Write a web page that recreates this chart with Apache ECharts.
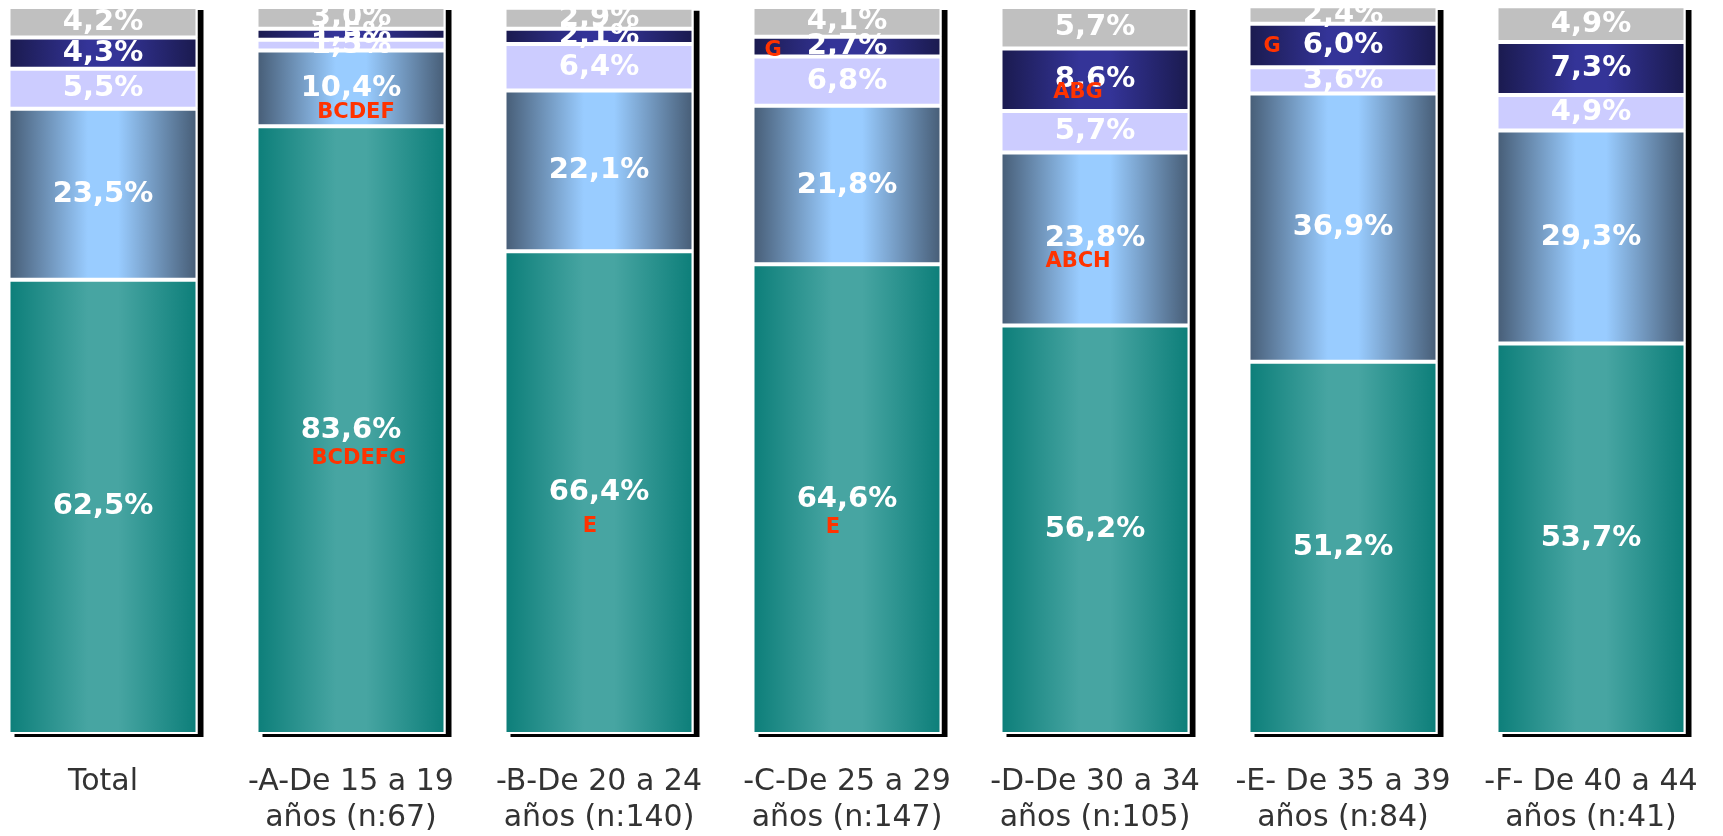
<!DOCTYPE html>
<html>
<head>
<meta charset="utf-8">
<script src="https://cdn.jsdelivr.net/npm/echarts@6/dist/echarts.min.js"></script>
<style>
  html, body { margin: 0; padding: 0; background: #fff; overflow: hidden; }
  #chart { position: absolute; left: -21px; top: 0; width: 1744px; height: 836px; }
</style>
</head>
<body>
<div id="chart"></div>
<script>
// ---- Data ----
const categories = [
  'Total',
  '-A-De 15 a 19\naños (n:67)',
  '-B-De 20 a 24\naños (n:140)',
  '-C-De 25 a 29\naños (n:147)',
  '-D-De 30 a 34\naños (n:105)',
  '-E- De 35 a 39\naños (n:84)',
  '-F- De 40 a 44\naños (n:41)'
];
const tealValues     = [62.5, 83.6, 66.4, 64.6, 56.2, 51.2, 53.7];
const skyBlueValues  = [23.5, 10.4, 22.1, 21.8, 23.8, 36.9, 29.3];
const lavenderValues = [5.5, 1.5, 6.4, 6.8, 5.7, 3.6, 4.9];
const navyValues     = [4.3, 1.5, 2.1, 2.7, 8.6, 6.0, 7.3];
const grayValues     = [4.2, 3.0, 2.9, 4.1, 5.7, 2.4, 4.9];

// significance notes: category index, segment index (0 = bottom), text
const notes = [
  { cat: 1, seg: 0, text: 'BCDEFG' },
  { cat: 1, seg: 1, text: 'BCDEF' },
  { cat: 2, seg: 0, text: 'E' },
  { cat: 3, seg: 0, text: 'E' },
  { cat: 3, seg: 3, text: 'G' },
  { cat: 4, seg: 3, text: 'ABG' },
  { cat: 4, seg: 1, text: 'ABCH' },
  { cat: 5, seg: 3, text: 'G' }
];

// ---- Styling ----
const noteOffsets = [[8, 28], [5, 24], [-9, 34], [-14, 28], [-74, 4], [-17, 13], [-17, 23], [-71, 1]];
const segValues = [tealValues, skyBlueValues, lavenderValues, navyValues, grayValues];
function hGrad(edge, mid) {
  return new echarts.graphic.LinearGradient(0, 0, 1, 0, [
    { offset: 0, color: edge },
    { offset: 0.42, color: mid },
    { offset: 0.58, color: mid },
    { offset: 1, color: edge }
  ]);
}
const segColors = [
  hGrad('#0C7E79', '#47A5A2'),
  hGrad('#465C75', '#99CCFF'),
  '#CCCCFF',
  hGrad('#1A1A4E', '#343498'),
  '#C0C0C0'
];
const segNames = ['s1', 's2', 's3', 's4', 's5'];
const BAR_W = 189;

const totals = categories.map((c, i) => segValues.reduce((s, arr) => s + arr[i], 0));
const fmt = v => v.toFixed(1).replace('.', ',') + '%';

const noteData = notes.map(n => {
  let below = 0;
  for (let k = 0; k < n.seg; k++) below += segValues[k][n.cat];
  return [n.cat, below + segValues[n.seg][n.cat] / 2];
});

const series = [{
  type: 'bar',
  name: 'shadow',
  data: totals,
  barWidth: BAR_W,
  barGap: '-100%',
  silent: true,
  itemStyle: { color: '#fff', shadowColor: '#000', shadowBlur: 0, shadowOffsetX: 6, shadowOffsetY: 3 },
  label: { show: false }
}];
segValues.forEach((arr, s) => {
  series.push({
    type: 'bar',
    name: segNames[s],
    stack: 'total',
    data: arr,
    barWidth: BAR_W,
    barGap: '-100%',
    itemStyle: { color: segColors[s], borderColor: '#fff', borderWidth: 2 },
    label: {
      show: true,
      position: 'inside',
      formatter: p => fmt(p.value),
      color: '#fff',
      fontFamily: 'DejaVu Sans',
      fontWeight: 'bold',
      fontSize: 29
    }
  });
});
series.push({
  type: 'custom',
  name: 'notes',
  data: noteData,
  encode: { x: 0, y: 1 },
  z: 10,
  silent: true,
  renderItem: function (params, api) {
    const p = api.coord([api.value(0), api.value(1)]);
    const i = params.dataIndex;
    return {
      type: 'text',
      x: p[0] + noteOffsets[i][0],
      y: p[1] + noteOffsets[i][1],
      style: {
        text: notes[i].text,
        fill: '#FF3300',
        font: 'bold 21px "DejaVu Sans"',
        align: 'center',
        verticalAlign: 'middle'
      }
    };
  }
});

const chart = echarts.init(document.getElementById('chart'), null, { renderer: 'canvas' });
chart.setOption({
  animation: false,
  backgroundColor: '#fff',
  grid: { left: 0, right: 8, top: 7, bottom: 102, containLabel: false },
  xAxis: {
    type: 'category',
    data: categories,
    axisLine: { show: false },
    axisTick: { show: false },
    axisLabel: {
      interval: 0,
      margin: 30,
      color: '#333',
      fontFamily: 'DejaVu Sans',
      fontSize: 30,
      lineHeight: 36
    }
  },
  yAxis: {
    type: 'value',
    min: 0,
    max: 100,
    show: false,
    splitLine: { show: false }
  },
  series: series
});
</script>
</body>
</html>
